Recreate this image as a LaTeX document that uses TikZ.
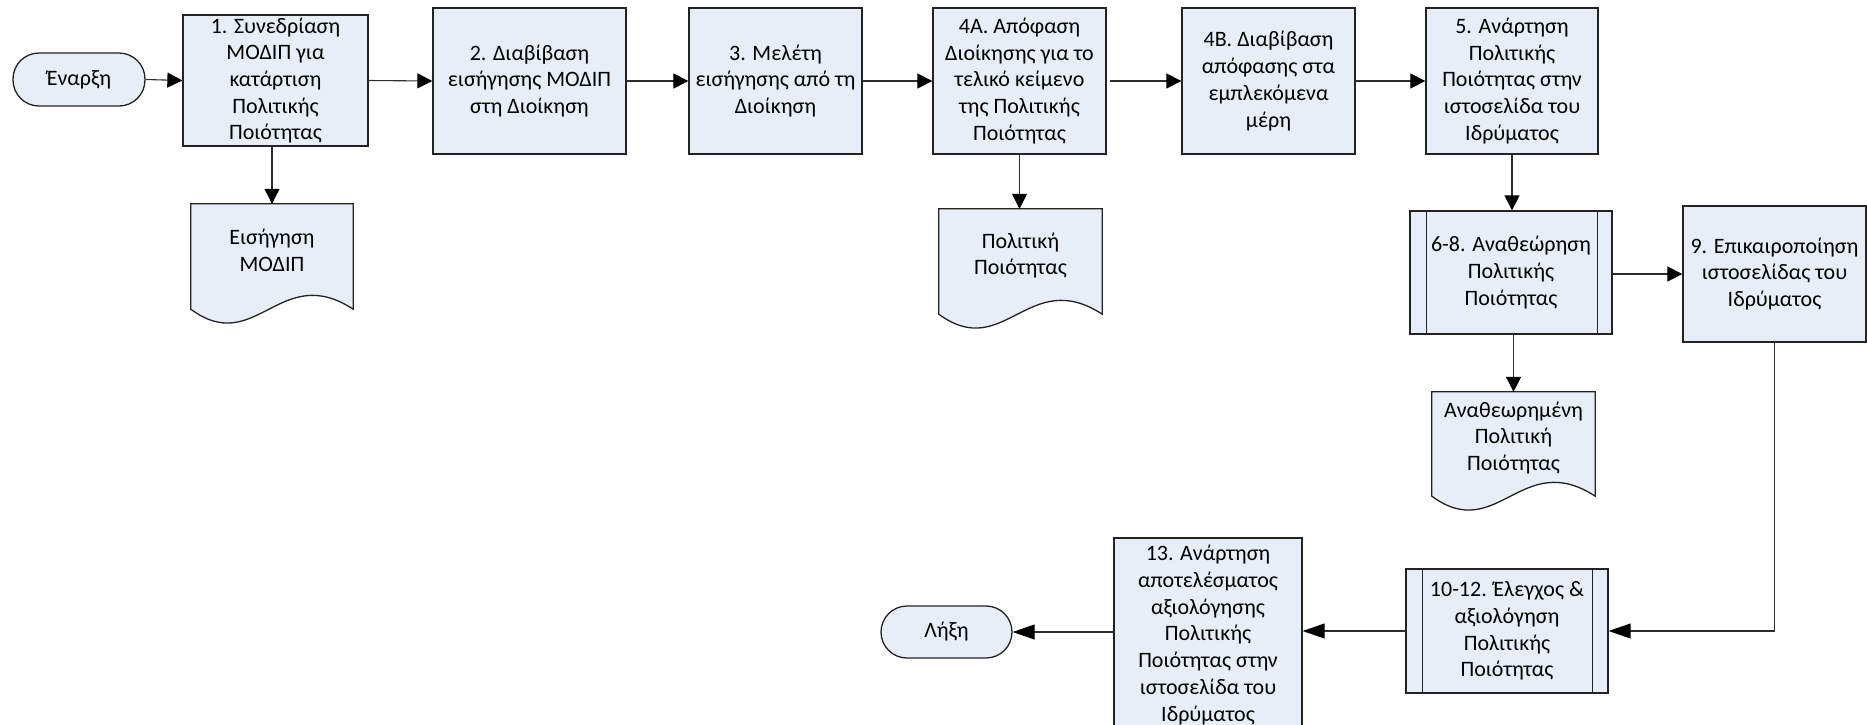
\documentclass[tikz,border=0pt]{standalone}
\usepackage{fontspec}
\setmainfont{Carlito}
\usetikzlibrary{arrows.meta,calc}
\definecolor{boxfill}{RGB}{232,238,247}
\definecolor{edgecol}{RGB}{35,35,35}
\definecolor{conncol}{RGB}{45,45,45}
\tikzset{
  base/.style={draw=edgecol, line width=1.3pt, fill=boxfill, font=\fontsize{22}{26.7}\selectfont, align=center, inner sep=0pt, text=black},
  proc/.style={base, rectangle},
  term/.style={base, rounded corners=26pt, minimum width=132pt, minimum height=53pt},
  docnode/.style={rectangle, inner sep=0pt, minimum width=163pt, minimum height=105pt},
  doctext/.style={font=\fontsize{22}{26.7}\selectfont, align=center, inner sep=0pt, text=black},
  docline/.style={draw=edgecol, line width=1.3pt, fill=boxfill},
  inner/.style={draw=edgecol, line width=1.3pt},
  conn/.style={draw=conncol, line width=1.1pt, -{Triangle[length=15pt,width=15pt,color=black]}},
  connL/.style={draw=conncol, line width=1.1pt, -{Triangle[length=22pt,width=15pt,color=black]}}
}
\newcommand\mydoc[1]{\draw[docline] (#1.north west) -- (#1.north east) -- (#1.south east) .. controls ($(#1.south west)!0.55!(#1.south east)+(0,-48)$) and ($(#1.south west)!0.4!(#1.south east)+(0,48)$) .. (#1.south west) -- cycle;}
\begin{document}
\begin{tikzpicture}[x=1pt,y=-1pt]
\useasboundingbox (0,0) rectangle (1867,724);

% top row
\node[term] (start) at (79,79.5) {Έναρξη};
\node[proc, minimum width=185pt, minimum height=131pt] (b1) at (275.5,80.5) {1. Συνεδρίαση\\ΜΟΔΙΠ για\\κατάρτιση\\Πολιτικής\\Ποιότητας};
\node[proc, minimum width=193pt, minimum height=146pt] (b2) at (529.5,81) {2. Διαβίβαση\\εισήγησης ΜΟΔΙΠ\\στη Διοίκηση};
\node[proc, minimum width=173pt, minimum height=146pt] (b3) at (775.5,81) {3. Μελέτη\\εισήγησης από τη\\Διοίκηση};
\node[proc, minimum width=173pt, minimum height=146pt] (b4a) at (1019.5,81) {4Α. Απόφαση\\Διοίκησης για το\\τελικό κείμενο\\της Πολιτικής\\Ποιότητας};
\node[proc, minimum width=173pt, minimum height=146pt] (b4b) at (1268.5,81) {4Β. Διαβίβαση\\απόφασης στα\\εμπλεκόμενα\\μέρη};
\node[proc, minimum width=172pt, minimum height=146pt] (b5) at (1512,81) {5. Ανάρτηση\\Πολιτικής\\Ποιότητας στην\\ιστοσελίδα του\\Ιδρύματος};

% documents
\node[docnode, minimum width=162pt] (d1) at (272,256.5) {};
\mydoc{d1}
\node[doctext] (d1t) at ($(d1.center)+(0,-6)$) {Εισήγηση\\ΜΟΔΙΠ};
\node[docnode] (d2) at (1020.5,261.5) {};
\mydoc{d2}
\node[doctext] (d2t) at ($(d2.center)+(0,-6)$) {Πολιτική\\Ποιότητας};
\node[docnode, minimum height=104pt] (d3) at (1513.5,444) {};
\mydoc{d3}
\node[doctext] (d3t) at ($(d3.center)+(0,-6)$) {Αναθεωρημένη\\Πολιτική\\Ποιότητας};

% middle
\node[proc, minimum width=202pt, minimum height=123pt] (b68) at (1511,272.5) {6-8. Αναθεώρηση\\Πολιτικής\\Ποιότητας};
\draw[inner] ([xshift=17pt]b68.north west) -- ([xshift=17pt]b68.south west);
\draw[inner] ([xshift=-15pt]b68.north east) -- ([xshift=-15pt]b68.south east);
\node[proc, minimum width=183pt, minimum height=136pt] (b9) at (1774.5,274) {9. Επικαιροποίηση\\ιστοσελίδας του\\Ιδρύματος};

% bottom
\node[proc, minimum width=202pt, minimum height=124pt] (b1012) at (1507,631) {10-12. Έλεγχος \&\\αξιολόγηση\\Πολιτικής\\Ποιότητας};
\draw[inner] ([xshift=17pt]b1012.north west) -- ([xshift=17pt]b1012.south west);
\draw[inner] ([xshift=-16pt]b1012.north east) -- ([xshift=-16pt]b1012.south east);
\node[proc, minimum width=188pt, minimum height=194pt] (b13) at (1208,635) {13. Ανάρτηση\\αποτελέσματος\\αξιολόγησης\\Πολιτικής\\Ποιότητας στην\\ιστοσελίδα του\\Ιδρύματος};
\node[term, minimum width=131pt, minimum height=52pt] (end) at (946.5,632) {Λήξη};

% connectors
\draw[conn] (start.east) -- (b1.west);
\draw[conn] (b1.east) -- (b2.west);
\draw[conn] (b2.east) -- (b3.west);
\draw[conn] (b3.east) -- (b4a.west);
\draw[conn, shorten <=3pt] (b4a.east) -- (b4b.west);
\draw[conn] (b4b.east) -- (b5.west);
\draw[conn] (d1.north |- b1.south) -- (d1.north);
\draw[conn] (b4a.south) -- (b4a.south |- d2.north);
\draw[conn] (b5.south) -- (b5.south |- b68.north);
\draw[conn] (d3.north |- b68.south) -- (d3.north);
\draw[conn] (b68.east |- b9.west) -- (b9.west);
\draw[connL] (b9.south) |- (b1012.east);
\draw[connL] (b1012.west) -- (b1012.west -| b13.east);
\draw[connL] (end.east -| b13.west) -- (end.east);
\end{tikzpicture}
\end{document}
